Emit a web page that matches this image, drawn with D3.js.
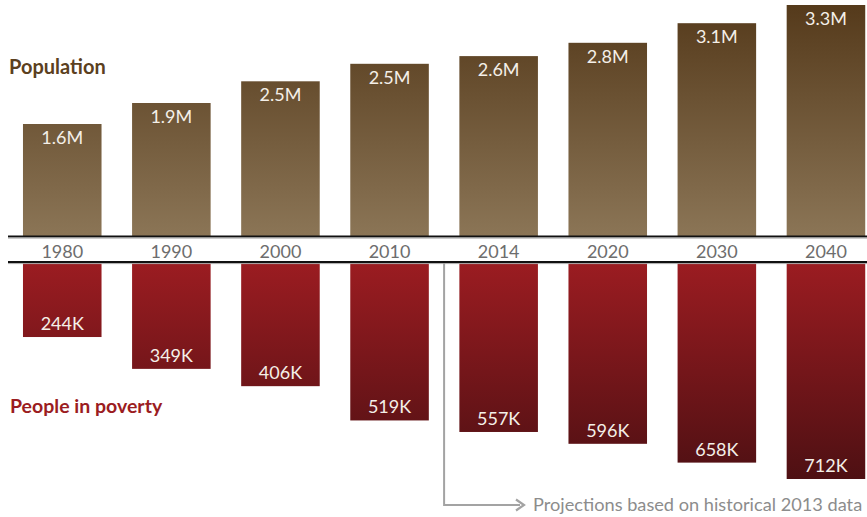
<!DOCTYPE html>
<html>
<head>
<meta charset="utf-8">
<script src="https://cdn.jsdelivr.net/npm/d3@7"></script>
<style>
  body { margin: 0; background: #fff; }
  text { font-family: Lato, "Open Sans", sans-serif; }
</style>
</head>
<body>
<div id="chart"></div>
<script>
// data
var years = ["1980", "1990", "2000", "2010", "2014", "2020", "2030", "2040"];
var population = [1.6, 1.9, 2.21, 2.46, 2.57, 2.76, 3.04, 3.3]; // millions, bar heights
var populationLabels = ["1.6M", "1.9M", "2.5M", "2.5M", "2.6M", "2.8M", "3.1M", "3.3M"];
var poverty = [244, 349, 406, 519, 557, 596, 658, 712]; // thousands
var povertyLabels = ["244K", "349K", "406K", "519K", "557K", "596K", "658K", "712K"];

var width = 867,
  height = 517;

var svg = d3
  .select("#chart")
  .append("svg")
  .attr("width", width)
  .attr("height", height);

var defs = svg.append("defs");

var gradBrown = defs
  .append("linearGradient")
  .attr("id", "gradBrown")
  .attr("gradientUnits", "userSpaceOnUse")
  .attr("x1", 0).attr("x2", 0)
  .attr("y1", 5).attr("y2", 236);
gradBrown.append("stop").attr("offset", 0).attr("stop-color", "#553a1b");
gradBrown.append("stop").attr("offset", 1).attr("stop-color", "#8b7556");

var gradRed = defs
  .append("linearGradient")
  .attr("id", "gradRed")
  .attr("gradientUnits", "userSpaceOnUse")
  .attr("x1", 0).attr("x2", 0)
  .attr("y1", 263).attr("y2", 479);
gradRed.append("stop").attr("offset", 0).attr("stop-color", "#9b1c21");
gradRed.append("stop").attr("offset", 1).attr("stop-color", "#4e1013");

// scales
var x = d3
  .scaleBand()
  .domain(years)
  .range([7.7, 880.5])
  .paddingInner(0.28)
  .paddingOuter(0.14);

var yTop = d3.scaleLinear().domain([0, 3.3]).range([236, 5]);
var yBottom = d3.scaleLinear().domain([0, 712]).range([263, 479]);

var popData = years.map(function (d, i) {
  return { year: d, value: population[i], label: populationLabels[i] };
});
var povData = years.map(function (d, i) {
  return { year: d, value: poverty[i], label: povertyLabels[i] };
});

// population bars
svg
  .selectAll(".pop")
  .data(popData)
  .enter()
  .append("rect")
  .attr("class", "pop")
  .attr("x", function (d) { return x(d.year); })
  .attr("width", x.bandwidth())
  .attr("y", function (d) { return yTop(d.value); })
  .attr("height", function (d) { return yTop(0) - yTop(d.value); })
  .attr("fill", "url(#gradBrown)");

svg
  .selectAll(".popLabel")
  .data(popData)
  .enter()
  .append("text")
  .attr("class", "popLabel")
  .attr("x", function (d) { return x(d.year) + x.bandwidth() / 2; })
  .attr("y", function (d) { return yTop(d.value) + 20; })
  .attr("text-anchor", "middle")
  .attr("fill", "#f4efe8")
  .style("font-size", "18px")
  .text(function (d) { return d.label; });

// poverty bars
svg
  .selectAll(".pov")
  .data(povData)
  .enter()
  .append("rect")
  .attr("class", "pov")
  .attr("x", function (d) { return x(d.year); })
  .attr("width", x.bandwidth())
  .attr("y", yBottom(0))
  .attr("height", function (d) { return yBottom(d.value) - yBottom(0); })
  .attr("fill", "url(#gradRed)");

svg
  .selectAll(".povLabel")
  .data(povData)
  .enter()
  .append("text")
  .attr("class", "povLabel")
  .attr("x", function (d) { return x(d.year) + x.bandwidth() / 2; })
  .attr("y", function (d) { return yBottom(d.value) - 7; })
  .attr("text-anchor", "middle")
  .attr("fill", "#f4efe8")
  .style("font-size", "18px")
  .text(function (d) { return d.label; });

// year band between two rules
[236.5, 262].forEach(function (yy) {
  svg.append("line")
    .attr("x1", 8).attr("x2", width)
    .attr("y1", yy).attr("y2", yy)
    .attr("stroke", "#111").attr("stroke-width", 2);
  svg.append("line")
    .attr("x1", 8).attr("x2", width)
    .attr("y1", yy + 1.6).attr("y2", yy + 1.6)
    .attr("stroke", "#aaa").attr("stroke-width", 1);
});

var xAxis = svg
  .append("g")
  .attr("transform", "translate(0,238)")
  .call(d3.axisBottom(x).tickSize(0).tickPadding(7));
xAxis.select(".domain").remove();
xAxis
  .selectAll("text")
  .attr("fill", "#6d6d6d")
  .style("font-family", "Lato, sans-serif")
  .style("font-size", "18px");

// series titles
svg.append("text")
  .attr("x", 9).attr("y", 74)
  .attr("fill", "#5b4020")
  .style("font-size", "20px")
  .style("font-weight", "bold")
  .text("Population");

svg.append("text")
  .attr("x", 10).attr("y", 413)
  .attr("fill", "#9b1c21")
  .style("font-size", "19.5px")
  .style("font-weight", "bold")
  .text("People in poverty");

// projection note
var noteX = x("2014") - (x.step() - x.bandwidth()) / 2;
svg.append("path")
  .attr("d", "M" + noteX + "," + yBottom(0) + "V505H520")
  .attr("fill", "none")
  .attr("stroke", "#a3a3a3")
  .attr("stroke-width", 2);
svg.append("path")
  .attr("d", "M516,499.5L524,505L516,510.5")
  .attr("fill", "none")
  .attr("stroke", "#a3a3a3")
  .attr("stroke-width", 2.2);

svg.append("text")
  .attr("x", 533).attr("y", 511)
  .attr("fill", "#8c8c8c")
  .style("font-size", "18.2px")
  .text("Projections based on historical 2013 data");
</script>
</body>
</html>
